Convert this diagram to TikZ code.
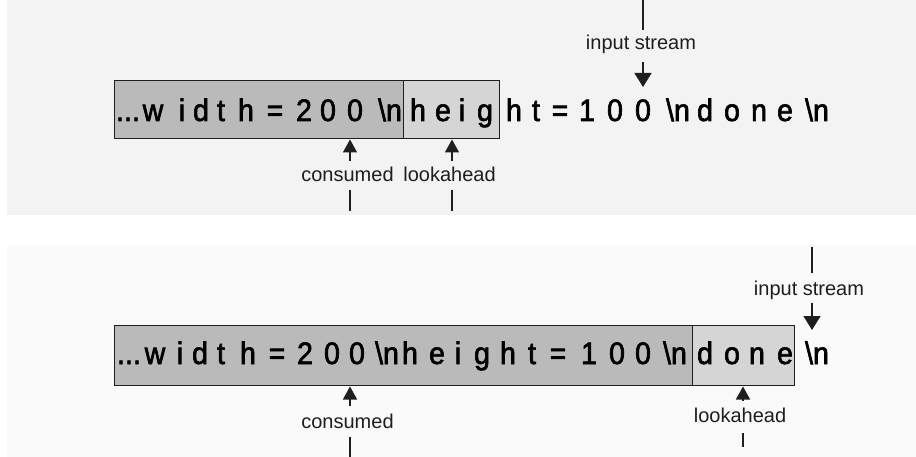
\documentclass[tikz,border=0pt]{standalone}
\usepackage{fontspec}
\setmainfont{Liberation Sans}
\newfontfamily\streamfont[FakeStretch=0.92,FakeBold=2]{Liberation Sans}
\usetikzlibrary{arrows.meta}

\definecolor{paneltop}{RGB}{243,243,243}
\definecolor{panelbot}{RGB}{250,250,250}
\definecolor{usedfill}{RGB}{186,186,186}
\definecolor{aheadfill}{RGB}{213,213,213}
\definecolor{ink}{RGB}{30,30,30}

\begin{document}
\begin{tikzpicture}[x=1pt,y=-1pt,
  buf/.style={draw=ink, line width=1.3pt, inner sep=0pt, anchor=north west},
  ch/.style={font=\streamfont\fontsize{31}{31}\selectfont, anchor=base, inner sep=0pt, text=black},
  lbl/.style={font=\fontsize{20}{20}\selectfont, anchor=base, inner sep=0pt, text=ink},
  ptr/.style={draw=ink, line width=1.4pt, -{Triangle[width=14pt,length=13pt]}},
  bigptr/.style={draw=ink, line width=1.4pt, -{Triangle[width=17pt,length=14pt]}},
  tick/.style={draw=ink, line width=1.4pt}]

\useasboundingbox (0,0) rectangle (916,457);

% two panels
\fill[paneltop] (7,0) rectangle (916,215);
\fill[panelbot] (7,245) rectangle (916,457);

% ---------- first state ----------
\node[buf, fill=usedfill, minimum width=289pt, minimum height=58pt] (usedA) at (114,80) {};
\node[buf, fill=aheadfill, minimum width=96pt, minimum height=58pt] (aheadA) at (403,80) {};

\foreach \px/\c [count=\i] in {128/{...},153/w,182/i,201/d,221/t,246/h,275/=,304/2,328/0,355/0,
    390/{\textbackslash n},418/h,443/e,462/i,485/g,514/h,536/t,560/=,587/1,615/0,643/0,
    678/{\textbackslash n},705/d,732/o,759/n,785/e,817/{\textbackslash n}}
  \node[ch] (sa\i) at (\px,121) {\c};

% input stream marker
\coordinate (inA0) at (643,0);
\coordinate (inA1) at (643,30);
\node[lbl] (inA) at (641,50) {input stream};
\coordinate (inA2) at (643,62);
\coordinate (inA3) at (643,87);
\draw[tick] (inA0) -- (inA1);
\draw[bigptr] (inA2) -- (inA3);

% consumed marker
\node[lbl] (consA) at (347.5,182) {consumed};
\coordinate (cA0) at (350,161);
\coordinate (cA1) at (350,139.5);
\coordinate (cA2) at (350,190);
\coordinate (cA3) at (350,211);
\draw[ptr] (cA0) -- (cA1);
\draw[tick] (cA2) -- (cA3);

% lookahead marker
\node[lbl] (lookA) at (449.5,182) {lookahead};
\coordinate (lA0) at (452,161);
\coordinate (lA1) at (452,139.5);
\coordinate (lA2) at (452,190);
\coordinate (lA3) at (452,211);
\draw[ptr] (lA0) -- (lA1);
\draw[tick] (lA2) -- (lA3);

% ---------- second state ----------
\node[buf, fill=usedfill, minimum width=578pt, minimum height=60pt] (usedB) at (114,325) {};
\node[buf, fill=aheadfill, minimum width=102pt, minimum height=60pt] (aheadB) at (692,325) {};

\foreach \px/\c [count=\i] in {129/{...},155/w,180/i,200/d,221/t,248/h,277/=,305/2,332/0,357/0,
    387/{\textbackslash n},410/h,437/e,458/i,482/g,508/h,532/t,558/=,589/1,617/0,643/0,
    675/{\textbackslash n},705/d,732/o,757/n,785/e,817/{\textbackslash n}}
  \node[ch] (sb\i) at (\px,364) {\c};

% input stream marker
\coordinate (inB0) at (812,247);
\coordinate (inB1) at (812,273);
\node[lbl] (inB) at (809,295) {input stream};
\coordinate (inB2) at (812,303);
\coordinate (inB3) at (812,330);
\draw[tick] (inB0) -- (inB1);
\draw[bigptr] (inB2) -- (inB3);

% consumed marker
\node[lbl] (consB) at (347.5,428) {consumed};
\coordinate (cB0) at (350,406);
\coordinate (cB1) at (350,386.5);
\coordinate (cB2) at (350,437);
\coordinate (cB3) at (350,457);
\draw[ptr] (cB0) -- (cB1);
\draw[tick] (cB2) -- (cB3);

% lookahead marker
\node[lbl] (lookB) at (740,422) {lookahead};
\coordinate (lB0) at (743,401);
\coordinate (lB1) at (743,386.5);
\coordinate (lB2) at (743,433);
\coordinate (lB3) at (743,447);
\draw[ptr] (lB0) -- (lB1);
\draw[tick] (lB2) -- (lB3);

\end{tikzpicture}
\end{document}
